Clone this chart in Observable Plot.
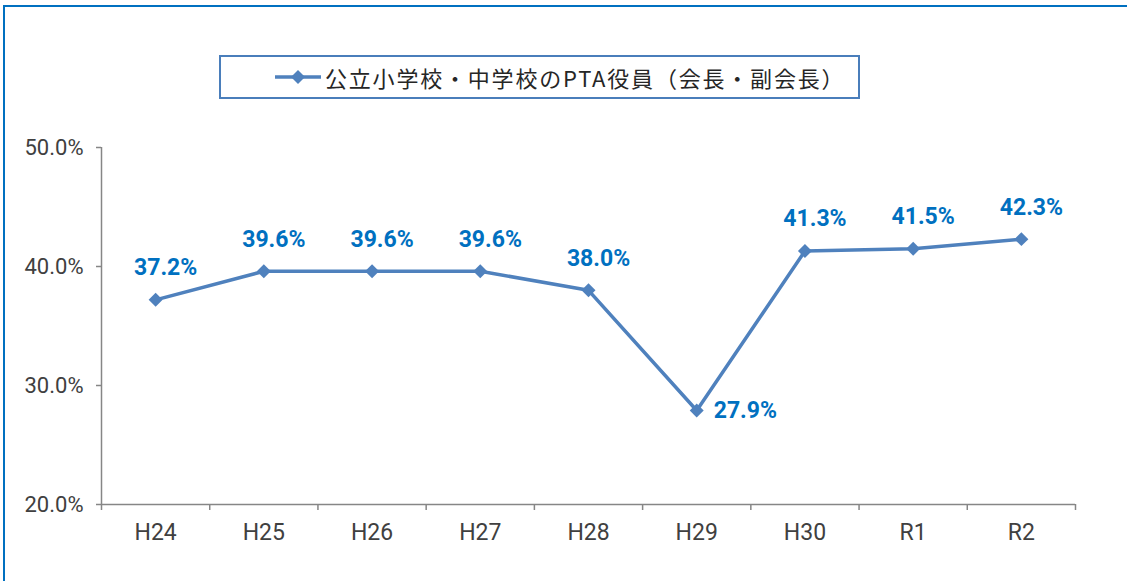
<!DOCTYPE html>
<html>
<head>
<meta charset="utf-8">
<script src="https://cdn.jsdelivr.net/npm/d3@7"></script>
<script src="https://cdn.jsdelivr.net/npm/@observablehq/plot@0.6"></script>
<style>
  html, body { margin: 0; padding: 0; background: #fff; }
  #wrap { position: relative; width: 1127px; height: 581px; overflow: hidden; }
  #frame { position: absolute; left: 3px; top: 5px; width: 1130px; height: 590px;
           border-top: 2px solid #0070C0; border-left: 2px solid #0070C0; box-sizing: border-box; }
  #legend { position: absolute; left: 219px; top: 55px; width: 641px; height: 44px; box-sizing: border-box;
            border: 2px solid #4A7EBB; display: flex; align-items: center; padding-left: 54px; }
  #legend span { font-family: "Noto Sans CJK JP", sans-serif; font-size: 22px; color: #262626; margin-left: 4px; letter-spacing: 1.8px; }
  #chart { position: absolute; left: 0; top: 0; }
  #chart svg, #chart svg text { font-family: Roboto, sans-serif; }
</style>
</head>
<body>
<div id="wrap">
  <div id="chart"></div>
  <div id="frame"></div>
  <div id="legend">
    <svg width="46" height="16"><line x1="0" y1="8" x2="46" y2="8" stroke="#4F81BD" stroke-width="3.5"/><path d="M23,1 L30,8 L23,15 L16,8 Z" fill="#4F81BD"/></svg>
    <span>公立小学校・中学校のPTA役員（会長・副会長）</span>
  </div>
</div>
<script>
const categories = ["H24", "H25", "H26", "H27", "H28", "H29", "H30", "R1", "R2"];
const values = [37.2, 39.6, 39.6, 39.6, 38.0, 27.9, 41.3, 41.5, 42.3];
const yTicks = [20, 30, 40, 50];
const seriesName = "公立小学校・中学校のPTA役員（会長・副会長）";

const data = categories.map((c, i) => ({ i, cat: c, v: values[i] }));
const minV = d3.min(values);
const boundaries = d3.range(categories.length + 1).map(k => k - 0.5);

const blue = "#4F81BD";
const labelBlue = "#0070C0";
const axisGray = "#868686";

const plot = Plot.plot({
  width: 1127,
  height: 581,
  marginLeft: 101,
  marginRight: 52,
  marginTop: 147,
  marginBottom: 77,
  style: { background: "transparent", fontFamily: "Roboto, sans-serif" },
  x: { type: "linear", domain: [-0.5, categories.length - 0.5] },
  y: { domain: [20, 50] },
  marks: [
    Plot.axisY({ ticks: yTicks, tickSize: 5, tickPadding: 13, stroke: axisGray, strokeWidth: 1.5,
                 tickFormat: d => d.toFixed(1) + "%", fontSize: 22, fill: "#404040", label: null }),
    Plot.axisX({ ticks: boundaries, tickSize: 6, stroke: axisGray, strokeWidth: 1.5, tickFormat: () => "", label: null }),
    Plot.axisX({ ticks: d3.range(categories.length), tickSize: 0, tickPadding: 19,
                 tickFormat: i => categories[i], fontSize: 23, fill: "#404040", label: null }),
    Plot.ruleX([-0.5], { stroke: axisGray, strokeWidth: 1.5 }),
    Plot.ruleY([20], { stroke: axisGray, strokeWidth: 1.5 }),
    Plot.line(data, { x: "i", y: "v", stroke: blue, strokeWidth: 3.5 }),
    Plot.dot(data, { x: "i", y: "v", symbol: "diamond2", r: 6.3, fill: blue, stroke: "none" }),
    Plot.text(data.filter(d => d.v !== minV), { x: "i", y: "v", text: d => d.v.toFixed(1) + "%", dy: -32, dx: 10,
      fill: labelBlue, fontSize: 23, fontWeight: "bold", style: { letterSpacing: "0.8px" } }),
    Plot.text(data.filter(d => d.v === minV), { x: "i", y: "v", text: d => d.v.toFixed(1) + "%", dx: 17,
      textAnchor: "start", fill: labelBlue, fontSize: 23, fontWeight: "bold", style: { letterSpacing: "0.8px" } })
  ]
});
document.getElementById("chart").appendChild(plot);
</script>
</body>
</html>
